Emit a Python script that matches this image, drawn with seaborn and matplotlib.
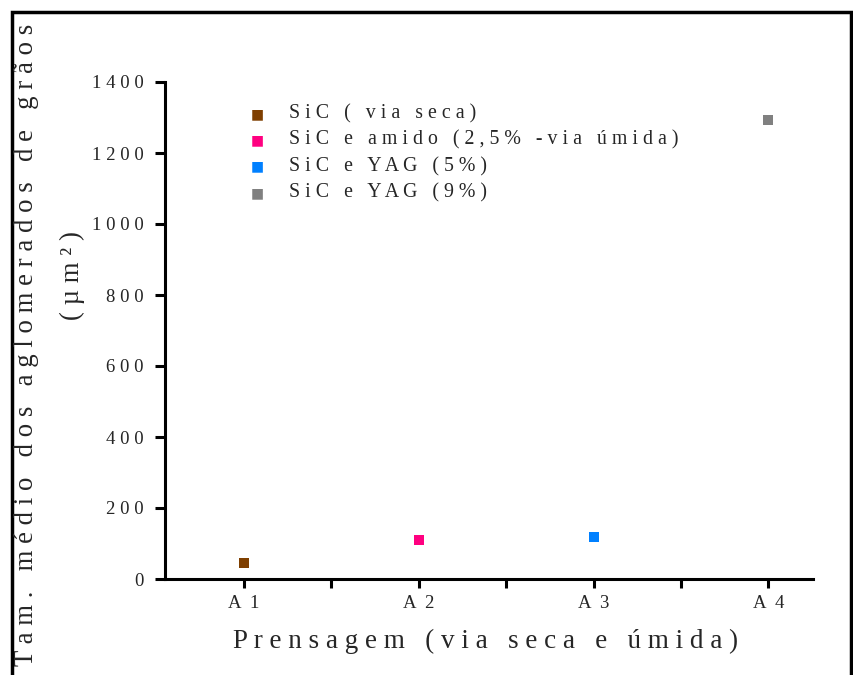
import matplotlib
matplotlib.use("Agg")
import matplotlib.pyplot as plt
from matplotlib.patches import Rectangle
from matplotlib.ticker import FixedLocator
import seaborn as sns
import pandas as pd

# Grain agglomerate sizes per pressing route
amostras = ["A1", "A2", "A3", "A4"]
series = ["SiC ( via seca)", "SiC e amido (2,5% -via úmida)",
          "SiC e YAG (5%)", "SiC e YAG (9%)"]
tamanhos = [46, 109, 117, 1293]
cores = ["#7F3F00", "#FF0080", "#0080FF", "#808080"]
yticks = [0, 200, 400, 600, 800, 1000, 1200, 1400]

W, H = 854, 675


def spaced(s, sep=" "):
    # wide letter spacing, as in the original typesetting
    return sep.join(s)


sns.set_theme(style="white")
plt.rcParams["font.family"] = ["Liberation Serif", "DejaVu Serif"]

df = pd.DataFrame({"pos": [1, 2, 3, 4], "tam": tamanhos, "serie": series})

fig = plt.figure(figsize=(W / 100, H / 100), dpi=100)
ax = fig.add_axes([165 / W, 1 - 579 / H, (813 - 165) / W, (579 - 82) / H])

sns.scatterplot(data=df, x="pos", y="tam", hue="serie", palette=cores,
                hue_order=series, marker="s", s=52, edgecolor="none",
                ax=ax, legend=False)

ax.set_xlim(0.548, 4.255)
ax.set_ylim(0, 1400)
ax.set_xticks([1, 2, 3, 4])
ax.set_xticklabels([spaced(a, "  ") for a in amostras], fontsize=13.5)
ax.xaxis.set_minor_locator(FixedLocator([1.5, 2.5, 3.5]))
ax.set_yticks(yticks)
ax.set_yticklabels([spaced(str(v)) for v in yticks], fontsize=13.5)
ax.tick_params(axis="x", which="both", direction="out", length=6.5, width=2.2,
               color="black", pad=5, bottom=True)
ax.tick_params(axis="y", direction="out", length=7.2, width=2.2, color="black",
               pad=8, left=True)
for side in ["top", "right"]:
    ax.spines[side].set_visible(False)
for side in ["left", "bottom"]:
    ax.spines[side].set_color("black")
    ax.spines[side].set_linewidth(2.2)
ax.set_xlabel("")
ax.set_ylabel("")

# X axis title
fig.text(486 / W, 1 - 641 / H, spaced("Prensagem (via seca e úmida)"),
         fontsize=19.5, ha="center", va="center")

# Legend
for i, (lab, c) in enumerate(zip(series, cores)):
    y = 1 - (114 + i * 26.3) / H
    fig.text(257 / W, y, "\u25a0", color=c, fontsize=10, ha="center",
             va="center", family="DejaVu Sans")
    fig.text(289 / W, y, spaced(lab), fontsize=14.3, ha="left", va="center")

# Y axis title in two lines
fig.text(27 / W, 1 - 345 / H, spaced("Tam. médio dos aglomerados de grãos"),
         rotation=90, fontsize=19.3, ha="center", va="center")
fig.text(72 / W, 1 - 276 / H, spaced("(µm²)"),
         rotation=90, fontsize=19.3, ha="center", va="center")

# Outer frame
fig.patches.append(Rectangle((12 / W, -0.05), (851 - 12) / W, 1.05 - 12 / H,
                             transform=fig.transFigure, fill=False,
                             edgecolor="black", linewidth=2.5))

fig.savefig("out.png", dpi=100)
